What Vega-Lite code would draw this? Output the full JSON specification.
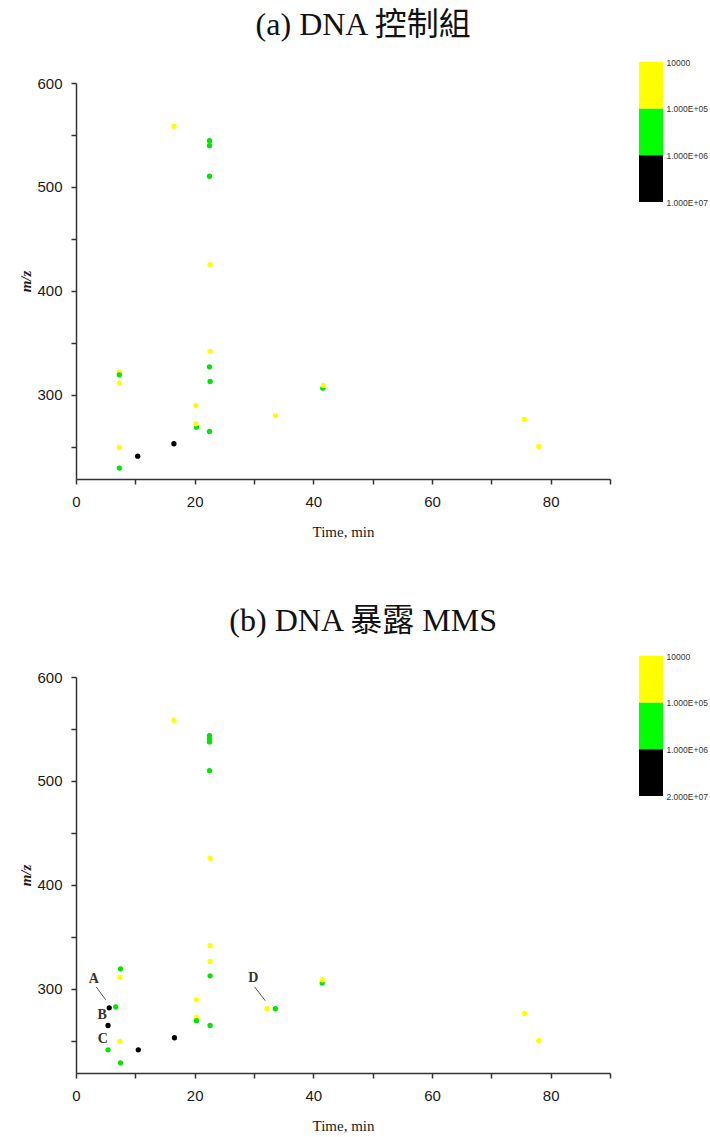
{
  "$schema": "https://vega.github.io/schema/vega-lite/v6.json",
  "background": "white",
  "padding": {"left": 18, "top": 9, "right": 0, "bottom": 0},
  "config": {
    "view": {"stroke": null},
    "axis": {
      "grid": false, "domainColor": "#333", "domainWidth": 1.5, "tickColor": "#333", "tickWidth": 1.5, "tickSize": 5,
      "labelFont": "Liberation Sans", "labelFontSize": 15, "labelColor": "#1a1a1a",
      "titleFont": "Liberation Serif", "titleFontSize": 15, "titleFontWeight": "normal", "titleColor": "#1a1a1a",
      "labelFlush": false, "labelOverlap": false
    },
    "title": {"font": "Liberation Serif, Noto Sans CJK TC", "fontSize": 32, "fontWeight": "normal", "color": "#111", "anchor": "middle"}
  },
  "datasets": {
    "a": [
      {"t": 16.5, "mz": 558.4, "lvl": "y"},
      {"t": 22.5, "mz": 542.5, "lvl": "y"},
      {"t": 22.5, "mz": 544.5, "lvl": "g"},
      {"t": 22.5, "mz": 539.7, "lvl": "g"},
      {"t": 22.5, "mz": 510.3, "lvl": "g"},
      {"t": 22.6, "mz": 425.3, "lvl": "y"},
      {"t": 22.6, "mz": 341.7, "lvl": "y"},
      {"t": 22.5, "mz": 326.9, "lvl": "g"},
      {"t": 22.6, "mz": 312.8, "lvl": "g"},
      {"t": 7.3, "mz": 321.8, "lvl": "y"},
      {"t": 7.3, "mz": 319.2, "lvl": "g"},
      {"t": 7.3, "mz": 311.5, "lvl": "y"},
      {"t": 20.2, "mz": 289.7, "lvl": "y"},
      {"t": 20.3, "mz": 268.9, "lvl": "g"},
      {"t": 20.2, "mz": 272.1, "lvl": "y"},
      {"t": 22.5, "mz": 264.7, "lvl": "g"},
      {"t": 7.3, "mz": 249.4, "lvl": "y"},
      {"t": 10.4, "mz": 241.0, "lvl": "k"},
      {"t": 16.5, "mz": 252.9, "lvl": "k"},
      {"t": 7.3, "mz": 229.5, "lvl": "g"},
      {"t": 33.6, "mz": 280.0, "lvl": "y"},
      {"t": 41.6, "mz": 306.4, "lvl": "g"},
      {"t": 41.7, "mz": 309.0, "lvl": "y"},
      {"t": 75.6, "mz": 276.3, "lvl": "y"},
      {"t": 78.0, "mz": 250.3, "lvl": "y"}
    ],
    "b": [
      {"t": 16.5, "mz": 558.4, "lvl": "y"},
      {"t": 22.5, "mz": 543.5, "lvl": "g"},
      {"t": 22.5, "mz": 540.5, "lvl": "g"},
      {"t": 22.5, "mz": 537.5, "lvl": "g"},
      {"t": 22.5, "mz": 509.9, "lvl": "g"},
      {"t": 22.6, "mz": 425.6, "lvl": "y"},
      {"t": 22.6, "mz": 341.5, "lvl": "y"},
      {"t": 22.6, "mz": 326.3, "lvl": "y"},
      {"t": 22.6, "mz": 312.5, "lvl": "g"},
      {"t": 20.3, "mz": 289.4, "lvl": "y"},
      {"t": 20.3, "mz": 272.8, "lvl": "y"},
      {"t": 20.3, "mz": 269.3, "lvl": "g"},
      {"t": 22.6, "mz": 264.7, "lvl": "g"},
      {"t": 32.2, "mz": 280.8, "lvl": "y"},
      {"t": 33.6, "mz": 280.8, "lvl": "g"},
      {"t": 41.5, "mz": 305.5, "lvl": "g"},
      {"t": 41.5, "mz": 308.7, "lvl": "y"},
      {"t": 7.5, "mz": 319.2, "lvl": "g"},
      {"t": 7.4, "mz": 311.2, "lvl": "y"},
      {"t": 5.6, "mz": 281.7, "lvl": "k"},
      {"t": 6.7, "mz": 282.7, "lvl": "g"},
      {"t": 5.4, "mz": 264.7, "lvl": "k"},
      {"t": 7.4, "mz": 249.4, "lvl": "y"},
      {"t": 5.4, "mz": 241.3, "lvl": "g"},
      {"t": 10.5, "mz": 241.3, "lvl": "k"},
      {"t": 7.5, "mz": 228.8, "lvl": "g"},
      {"t": 16.6, "mz": 252.9, "lvl": "k"},
      {"t": 75.6, "mz": 276.3, "lvl": "y"},
      {"t": 78.0, "mz": 250.3, "lvl": "y"}
    ],
    "annText": [
      {"t": 3.0, "mz": 309.6, "lab": "A"},
      {"t": 4.4, "mz": 275.0, "lab": "B"},
      {"t": 4.5, "mz": 251.9, "lab": "C"},
      {"t": 29.9, "mz": 310.6, "lab": "D"}
    ],
    "annLine": [
      {"t": 3.4, "mz": 301.9, "t2": 5.0, "mz2": 289.4},
      {"t": 30.1, "mz": 301.9, "t2": 31.9, "mz2": 288.5}
    ],
    "legA": [
      {"from": "10000", "to": "1.000E+05", "lvl": "y"},
      {"from": "1.000E+05", "to": "1.000E+06", "lvl": "g"},
      {"from": "1.000E+06", "to": "1.000E+07", "lvl": "k"}
    ],
    "legB": [
      {"from": "10000", "to": "1.000E+05", "lvl": "y"},
      {"from": "1.000E+05", "to": "1.000E+06", "lvl": "g"},
      {"from": "1.000E+06", "to": "2.000E+07", "lvl": "k"}
    ]
  },
  "spacing": 66,
  "vconcat": [
    {
      "title": {"text": "(a) DNA 控制組", "offset": 16},
      "bounds": "flush",
      "spacing": 29,
      "resolve": {"scale": {"x": "independent", "y": "independent"}},
      "hconcat": [
        {
          "width": 534, "height": 396,
          "data": {"name": "a"},
          "layer": [
            {
              "mark": {"type": "circle", "size": 28, "opacity": 1},
              "encoding": {
                "x": {"field": "t", "type": "quantitative", "scale": {"domain": [0, 90], "nice": false},
                      "axis": {"title": "Time, min", "values": [0,10,20,30,40,50,60,70,80,90], "labelExpr": "datum.value % 20 === 0 ? datum.label : ''", "labelPadding": 10, "titlePadding": 15}},
                "y": {"field": "mz", "type": "quantitative", "scale": {"domain": [219, 600], "nice": false, "zero": false},
                      "axis": {"title": "m/z", "values": [250,300,350,400,450,500,550,600], "labelExpr": "datum.value % 100 === 0 ? datum.label : ''", "labelPadding": 9, "titleFontStyle": "italic", "titleFontWeight": "bold", "titlePadding": 3}},
                "color": {"field": "lvl", "type": "nominal", "scale": {"domain": ["y","g","k"], "range": ["#FFFF00","#00E600","#000000"]}, "legend": null}
              }
            }
          ]
        },
        {
          "width": 24, "height": 140,
          "data": {"name": "legA"},
          "mark": {"type": "rect"},
          "encoding": {
            "y": {"field": "from", "type": "ordinal", "scale": {"type": "point", "domain": ["10000","1.000E+05","1.000E+06","1.000E+07"], "range": [-21, 119], "padding": 0},
                  "axis": {"orient": "right", "title": null, "domain": false, "ticks": false, "labelFontSize": 8.5, "labelColor": "#333", "labelPadding": 3}},
            "y2": {"field": "to"},
            "fill": {"field": "lvl", "type": "nominal", "scale": {"domain": ["y","g","k"], "range": ["#FFFF00","#00FF00","#000000"]}, "legend": null}
          }
        }
      ]
    },
    {
      "title": {"text": "(b) DNA 暴露 MMS", "offset": 14},
      "bounds": "flush",
      "spacing": 29,
      "resolve": {"scale": {"x": "independent", "y": "independent"}},
      "hconcat": [
        {
          "width": 534, "height": 396,
          "layer": [
            {
              "data": {"name": "b"},
              "mark": {"type": "circle", "size": 28, "opacity": 1},
              "encoding": {
                "x": {"field": "t", "type": "quantitative", "scale": {"domain": [0, 90], "nice": false},
                      "axis": {"title": "Time, min", "values": [0,10,20,30,40,50,60,70,80,90], "labelExpr": "datum.value % 20 === 0 ? datum.label : ''", "labelPadding": 10, "titlePadding": 15}},
                "y": {"field": "mz", "type": "quantitative", "scale": {"domain": [219, 600], "nice": false, "zero": false},
                      "axis": {"title": "m/z", "values": [250,300,350,400,450,500,550,600], "labelExpr": "datum.value % 100 === 0 ? datum.label : ''", "labelPadding": 9, "titleFontStyle": "italic", "titleFontWeight": "bold", "titlePadding": 3}},
                "color": {"field": "lvl", "type": "nominal", "scale": {"domain": ["y","g","k"], "range": ["#FFFF00","#00E600","#000000"]}, "legend": null}
              }
            },
            {
              "data": {"name": "annLine"},
              "mark": {"type": "rule", "color": "#555", "strokeWidth": 1},
              "encoding": {
                "x": {"field": "t", "type": "quantitative"},
                "y": {"field": "mz", "type": "quantitative"},
                "x2": {"field": "t2"},
                "y2": {"field": "mz2"}
              }
            },
            {
              "data": {"name": "annText"},
              "mark": {"type": "text", "font": "Liberation Serif", "fontWeight": "bold", "fontSize": 14, "color": "#333"},
              "encoding": {
                "x": {"field": "t", "type": "quantitative"},
                "y": {"field": "mz", "type": "quantitative"},
                "text": {"field": "lab"}
              }
            }
          ]
        },
        {
          "width": 24, "height": 140,
          "data": {"name": "legB"},
          "mark": {"type": "rect"},
          "encoding": {
            "y": {"field": "from", "type": "ordinal", "scale": {"type": "point", "domain": ["10000","1.000E+05","1.000E+06","2.000E+07"], "range": [-21, 119], "padding": 0},
                  "axis": {"orient": "right", "title": null, "domain": false, "ticks": false, "labelFontSize": 8.5, "labelColor": "#333", "labelPadding": 3}},
            "y2": {"field": "to"},
            "fill": {"field": "lvl", "type": "nominal", "scale": {"domain": ["y","g","k"], "range": ["#FFFF00","#00FF00","#000000"]}, "legend": null}
          }
        }
      ]
    }
  ]
}
